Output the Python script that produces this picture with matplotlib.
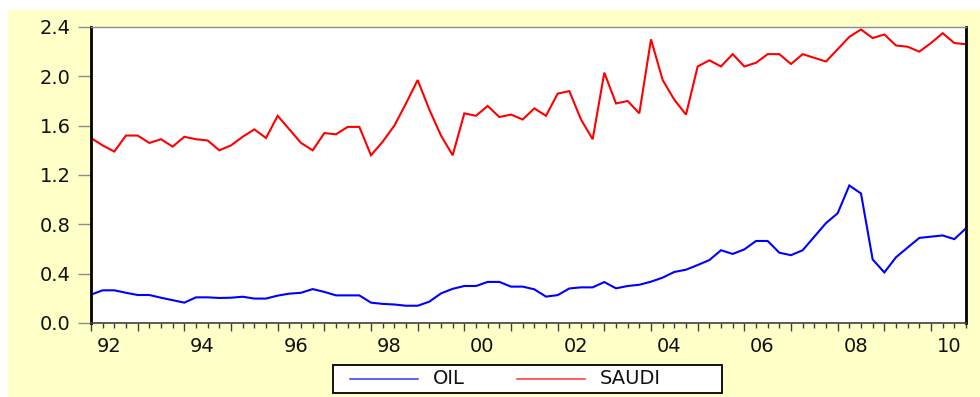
import numpy as np
import pandas as pd
import matplotlib
matplotlib.use("Agg")
import matplotlib.pyplot as plt
from matplotlib.patches import Rectangle
from matplotlib.lines import Line2D
from matplotlib.transforms import ScaledTranslation
from matplotlib.ticker import FixedLocator, MultipleLocator

# Quarterly series, 1992Q1 - 2010Q4
quarters = pd.period_range("1992Q1", "2010Q4", freq="Q")

oil = [0.23, 0.265, 0.265, 0.245, 0.227, 0.227, 0.205, 0.185, 0.165, 0.208,
       0.208, 0.203, 0.205, 0.213, 0.198, 0.198, 0.222, 0.238, 0.245, 0.275,
       0.252, 0.224, 0.224, 0.224, 0.165, 0.155, 0.150, 0.140, 0.140, 0.173,
       0.240, 0.277, 0.300, 0.300, 0.333, 0.333, 0.295, 0.295, 0.273, 0.214,
       0.226, 0.280, 0.289, 0.289, 0.332, 0.281, 0.300, 0.310, 0.335, 0.368,
       0.414, 0.432, 0.470, 0.510, 0.590, 0.560, 0.597, 0.665, 0.665, 0.570,
       0.550, 0.590, 0.700, 0.810, 0.890, 1.115, 1.050, 0.515, 0.410, 0.533,
       0.612, 0.690, 0.700, 0.710, 0.680, 0.768]

saudi = [1.50, 1.44, 1.39, 1.52, 1.52, 1.46, 1.49, 1.43, 1.51, 1.49,
         1.48, 1.40, 1.44, 1.51, 1.57, 1.50, 1.68, 1.57, 1.46, 1.40,
         1.54, 1.53, 1.59, 1.59, 1.36, 1.47, 1.60, 1.78, 1.97, 1.73,
         1.52, 1.36, 1.70, 1.68, 1.76, 1.67, 1.69, 1.65, 1.74, 1.68,
         1.86, 1.88, 1.65, 1.49, 2.03, 1.78, 1.80, 1.70, 2.30, 1.97,
         1.81, 1.69, 2.08, 2.13, 2.08, 2.18, 2.08, 2.11, 2.18, 2.18,
         2.10, 2.18, 2.15, 2.12, 2.22, 2.32, 2.38, 2.31, 2.34, 2.25,
         2.24, 2.20, 2.27, 2.35, 2.27, 2.26]

series_names = ["OIL", "SAUDI"]
series_colors = ["#0000FF", "#FF0000"]

y_ticks = [0.0, 0.4, 0.8, 1.2, 1.6, 2.0, 2.4]
year_ticks = list(range(1992, 2011))
year_labels = [f"{y % 100:02d}" if y % 2 == 0 else "" for y in year_ticks]

W, H = 980, 397
FS = 14
fig = plt.figure(figsize=(W / 100, H / 100), dpi=100, facecolor="white")
plt.rcParams["font.family"] = ["DejaVu Sans"]

# pale yellow panel behind the chart
fig.patches.append(Rectangle((8 / W, 0), 1 - 8 / W, 1 - 10 / H,
                             transform=fig.transFigure, facecolor="#FFFFC8",
                             edgecolor="none", zorder=-10))

ax = fig.add_axes([91 / W, 1 - 323 / H, (966 - 91) / W, (323 - 27) / H])
ax.set_facecolor("white")

x = quarters.year + (quarters.quarter - 1) / 4.0
ax.plot(x, oil, color=series_colors[0], lw=1.5, solid_joinstyle="miter")
ax.plot(x, saudi, color=series_colors[1], lw=1.5, solid_joinstyle="miter")

ax.set_xlim(1992, 2010.75)
ax.set_ylim(0, 2.4)

ax.yaxis.set_major_locator(FixedLocator(y_ticks))
ax.set_yticklabels([f"{v:.1f}" for v in y_ticks])
ax.xaxis.set_major_locator(FixedLocator(year_ticks))
ax.set_xticklabels(year_labels)
ax.xaxis.set_minor_locator(MultipleLocator(0.25))

ax.tick_params(axis="y", direction="out", length=9.5, width=1, color="#8C8C8C",
               labelsize=FS, pad=5, labelcolor="#111111")
ax.tick_params(axis="x", which="major", direction="out", length=5.8, width=1,
               color="#404040", labelsize=FS, pad=4, labelcolor="#111111")
ax.tick_params(axis="x", which="minor", direction="out", length=3.6, width=1,
               color="#404040")

# year labels sit in the middle of the first half of each year
offset = ScaledTranslation(0.18, 0, fig.dpi_scale_trans)
for lab in ax.get_xticklabels():
    lab.set_transform(lab.get_transform() + offset)
    lab.set_ha("center")

for side in ("left", "right"):
    ax.spines[side].set_color("black")
    ax.spines[side].set_linewidth(2.0)
ax.spines["top"].set_color("#8C8C8C")
ax.spines["top"].set_linewidth(1.0)
ax.spines["bottom"].set_color("#404040")
ax.spines["bottom"].set_linewidth(1.2)

# legend box below the axes
fig.patches.append(Rectangle((333 / W, 1 - 393 / H), 389 / W, 28 / H,
                             transform=fig.transFigure, facecolor="white",
                             edgecolor="black", lw=1.3, zorder=5))
ly = 1 - 379 / H
for (x0, x1, tx), name, col in zip([(350, 418, 433), (517, 585, 600)],
                                   series_names, series_colors):
    fig.lines.append(Line2D([x0 / W, x1 / W], [ly, ly], transform=fig.transFigure,
                            color=col, lw=1.1, alpha=0.8, zorder=6))
    fig.text(tx / W, ly, name, ha="left", va="center", fontsize=FS,
             color="#111111", zorder=6)

fig.savefig("out.png", dpi=100, facecolor="white")
